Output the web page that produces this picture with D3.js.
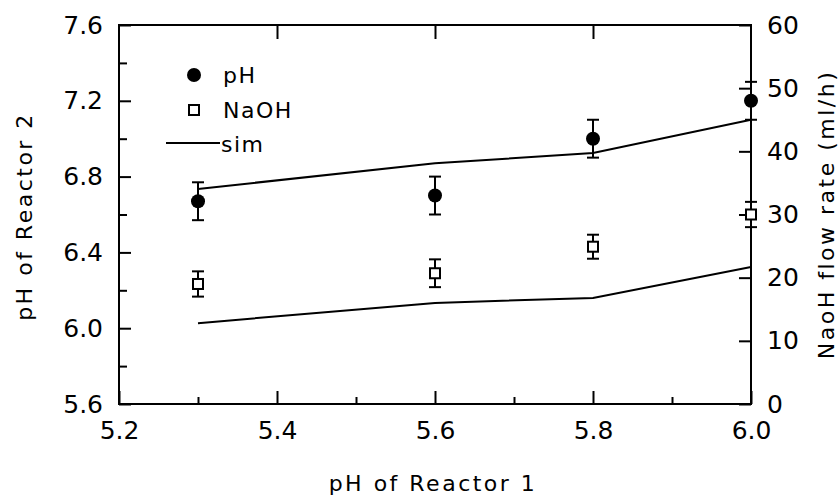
<!DOCTYPE html>
<html>
<head>
<meta charset="utf-8">
<script src="https://cdn.jsdelivr.net/npm/d3@7"></script>
<style>
  body { margin: 0; background: #fff; }
  svg text { font-family: "DejaVu Sans", sans-serif; fill: #000; }
</style>
</head>
<body>
<div id="chart"></div>
<script>
// measured points (reactor 1 pH on x)
const reactor1PH = [5.3, 5.6, 5.8, 6.0];
const reactor2PH = [6.67, 6.70, 7.00, 7.20];
const reactor2PHErr = [0.1, 0.1, 0.1, 0.1];
const naohRate = [19.0, 20.7, 24.9, 30.0];
const naohRateErr = [2.0, 2.2, 1.9, 2.0];

// simulation
const simX = [5.3, 5.6, 5.8, 6.0];
const simPH = [6.735, 6.87, 6.925, 7.10];
const simNaOH = [12.8, 16.0, 16.8, 21.7];

const xTicks = [5.2, 5.4, 5.6, 5.8, 6.0];
const xMinorTicks = [5.3, 5.5, 5.7, 5.9];
const yLeftTicks = [5.6, 6.0, 6.4, 6.8, 7.2, 7.6];
const yLeftMinorTicks = [5.8, 6.2, 6.6, 7.0, 7.4];
const yRightTicks = [0, 10, 20, 30, 40, 50, 60];

const margin = {top: 25, right: 89, bottom: 92, left: 119};
const width = 840 - margin.left - margin.right;
const height = 496 - margin.top - margin.bottom;

const svg = d3.select('#chart').append('svg')
  .attr('width', 840)
  .attr('height', 496);

const g = svg.append('g')
  .attr('transform', `translate(${margin.left},${margin.top})`);

const x = d3.scaleLinear().domain([5.2, 6.0]).range([0, width]);
const yL = d3.scaleLinear().domain([5.6, 7.6]).range([height, 0]);
const yR = d3.scaleLinear().domain([0, 60]).range([height, 0]);

const fmt1 = d3.format('.1f');
const noDomain = sel => sel.select('.domain').remove();

function styleAxis(sel, size) {
  sel.attr('font-size', size).attr('font-family', null);
  sel.selectAll('line').attr('stroke', '#000').attr('stroke-width', 2);
  sel.selectAll('text').attr('fill', '#000');
}

// bottom axis
g.append('g')
  .attr('transform', `translate(0,${height})`)
  .call(d3.axisBottom(x).tickValues(xTicks).tickFormat(fmt1).tickSize(-13).tickPadding(17))
  .call(noDomain)
  .call(s => styleAxis(s, 25));

g.append('g')
  .attr('transform', `translate(0,${height})`)
  .call(d3.axisBottom(x).tickValues(xMinorTicks).tickFormat('').tickSize(-7))
  .call(noDomain)
  .call(s => styleAxis(s, 25));

// top axis (ticks only)
g.append('g')
  .call(d3.axisTop(x).tickValues([5.4, 5.6, 5.8]).tickFormat('').tickSize(-14))
  .call(noDomain)
  .call(s => styleAxis(s, 25));

// left axis
g.append('g')
  .call(d3.axisLeft(yL).tickValues(yLeftTicks).tickFormat(fmt1).tickSize(-12).tickPadding(16))
  .call(noDomain)
  .call(s => styleAxis(s, 25));

g.append('g')
  .call(d3.axisLeft(yL).tickValues(yLeftMinorTicks).tickFormat('').tickSize(-8))
  .call(noDomain)
  .call(s => styleAxis(s, 25));

// right axis
g.append('g')
  .attr('transform', `translate(${width},0)`)
  .call(d3.axisRight(yR).tickValues(yRightTicks).tickFormat(d3.format('d')).tickSize(-12).tickPadding(16))
  .call(noDomain)
  .call(s => styleAxis(s, 25));

// frame
g.append('rect')
  .attr('width', width)
  .attr('height', height)
  .attr('fill', 'none')
  .attr('stroke', '#000')
  .attr('stroke-width', 2);

// sim lines
const phLine = d3.line().x((d, i) => x(simX[i])).y(d => yL(d));
const naohLine = d3.line().x((d, i) => x(simX[i])).y(d => yR(d));

g.append('path').datum(simPH)
  .attr('d', phLine).attr('fill', 'none').attr('stroke', '#000').attr('stroke-width', 2);
g.append('path').datum(simNaOH)
  .attr('d', naohLine).attr('fill', 'none').attr('stroke', '#000').attr('stroke-width', 2);

// error bars
const capW = 6;
function errorBars(vals, errs, yScale) {
  const eb = g.append('g').attr('stroke', '#000').attr('stroke-width', 2);
  vals.forEach((v, i) => {
    const cx = x(reactor1PH[i]);
    const y0 = yScale(v - errs[i]);
    const y1 = yScale(v + errs[i]);
    eb.append('line').attr('x1', cx).attr('x2', cx).attr('y1', y0).attr('y2', y1);
    eb.append('line').attr('x1', cx - capW).attr('x2', cx + capW).attr('y1', y0).attr('y2', y0);
    eb.append('line').attr('x1', cx - capW).attr('x2', cx + capW).attr('y1', y1).attr('y2', y1);
  });
}
errorBars(reactor2PH, reactor2PHErr, yL);
errorBars(naohRate, naohRateErr, yR);

// pH points
g.selectAll('.ph')
  .data(reactor2PH)
  .enter().append('circle')
  .attr('class', 'ph')
  .attr('cx', (d, i) => x(reactor1PH[i]))
  .attr('cy', d => yL(d))
  .attr('r', 7)
  .attr('fill', '#000');

// NaOH points
g.selectAll('.naoh')
  .data(naohRate)
  .enter().append('rect')
  .attr('class', 'naoh')
  .attr('x', (d, i) => x(reactor1PH[i]) - 5)
  .attr('y', d => yR(d) - 5)
  .attr('width', 10)
  .attr('height', 10)
  .attr('fill', '#fff')
  .attr('stroke', '#000')
  .attr('stroke-width', 2);

// legend
const legend = svg.append('g').attr('font-size', 22).attr('letter-spacing', 1.5);
legend.append('circle').attr('cx', 194).attr('cy', 75).attr('r', 7).attr('fill', '#000');
legend.append('text').attr('x', 223).attr('y', 83).text('pH');
legend.append('rect').attr('x', 189).attr('y', 105).attr('width', 10).attr('height', 10)
  .attr('fill', '#fff').attr('stroke', '#000').attr('stroke-width', 2);
legend.append('text').attr('x', 223).attr('y', 118).text('NaOH');
legend.append('line').attr('x1', 166).attr('x2', 220).attr('y1', 143).attr('y2', 143)
  .attr('stroke', '#000').attr('stroke-width', 2);
legend.append('text').attr('x', 221).attr('y', 152).text('sim');

// axis titles
svg.append('text')
  .attr('x', margin.left + width / 2 - 2)
  .attr('y', 491)
  .attr('text-anchor', 'middle')
  .attr('font-size', 22)
  .attr('letter-spacing', 2.5)
  .text('pH of Reactor 1');

svg.append('text')
  .attr('transform', `translate(32,${margin.top + height / 2 + 2}) rotate(-90)`)
  .attr('text-anchor', 'middle')
  .attr('font-size', 22)
  .attr('letter-spacing', 2.5)
  .text('pH of Reactor 2');

svg.append('text')
  .attr('transform', `translate(834,${margin.top + height / 2}) rotate(-90)`)
  .attr('text-anchor', 'middle')
  .attr('font-size', 22)
  .attr('letter-spacing', 2.5)
  .text('NaoH flow rate (ml/h)');
</script>
</body>
</html>
